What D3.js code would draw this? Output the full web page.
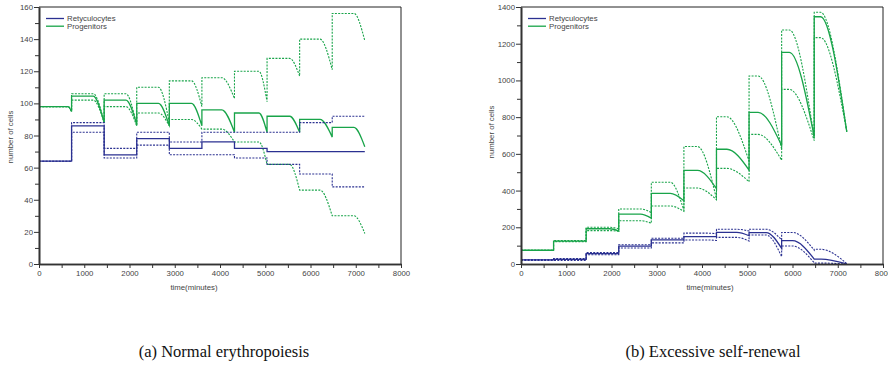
<!DOCTYPE html>
<html>
<head>
<meta charset="utf-8">
<script src="https://cdn.jsdelivr.net/npm/d3@7"></script>
<style>
  body { margin: 0; background: #fff; }
  svg { display: block; }
  .tick text { font-family: "Liberation Sans", Arial, sans-serif; font-size: 7.8px; fill: #444; }
</style>
</head>
<body>
<svg id="fig" width="888" height="374"></svg>
<script>
// Simulation output: cell counts over time, one dose pulse every 720 minutes.
const PERIOD = 720;
const periodStarts = [0, 720, 1440, 2160, 2880, 3600, 4320, 5040, 5760, 6480];
const xTickValues = [0, 1000, 2000, 3000, 4000, 5000, 6000, 7000, 8000];
const xMinorValues = [500, 1500, 2500, 3500, 4500, 5500, 6500, 7500];
const seriesNames = ["Retyculocytes", "Progenitors"];

// (a) Normal erythropoiesis — level at start of each period, minute the decline begins, level at its end
const normalKnee = [640, 480, 480, 480, 490, 440, 540, 500, 450, 480];
const normalProgMeanStart = [98, 104.5, 102, 100, 100, 96, 94, 92, 90, 85];
const normalProgMeanEnd   = [95, 88, 87, 86, 86, 82, 82, 82, 79, 73];
const normalProgHighStart = [98, 106, 106, 110, 114, 116, 120, 128, 140, 156];
const normalProgHighEnd   = [95, 88, 86, 88, 98, 103, 101, 117, 121, 139];
const normalProgLowStart  = [98, 102, 98, 94, 90, 84, 76, 62, 46, 30];
const normalProgLowEnd    = [95, 88, 86, 86, 84, 76, 62, 46, 30, 19];
const normalRetMean = [64, 86, 68, 78, 72, 76, 72, 70, 70, 70];
const normalRetHigh = [64, 88, 72, 82, 76, 82, 82, 82, 88, 92];
const normalRetLow  = [64, 82, 66, 74, 68, 68, 66, 62, 56, 48];
const normalYTicks = [0, 20, 40, 60, 80, 100, 120, 140, 160];
const normalYMinor = [10, 30, 50, 70, 90, 110, 130, 150];

// (b) Excessive self-renewal
const renewalGreenKnee = [600, 600, 520, 480, 420, 300, 230, 200, 170, 140];
const renewalProgMeanStart = [75, 125, 192, 272, 385, 510, 625, 826, 1153, 1347];
const renewalProgMeanEnd   = [75, 125, 180, 250, 345, 410, 512, 645, 693, 720];
const renewalProgHighStart = [75, 128, 200, 300, 445, 640, 802, 1024, 1275, 1371];
const renewalProgHighEnd   = [75, 128, 192, 280, 292, 355, 560, 625, 685, 720];
const renewalProgLowStart  = [75, 122, 182, 236, 316, 414, 521, 706, 951, 1233];
const renewalProgLowEnd    = [75, 122, 178, 222, 287, 350, 448, 566, 672, 720];
const renewalBlueKnee = [600, 600, 600, 600, 600, 500, 450, 380, 240, 150];
const renewalRetMeanStart = [22, 25, 56, 97, 131, 149, 172, 171, 127, 27];
const renewalRetMeanEnd   = [22, 25, 56, 97, 131, 149, 154, 85, 27, 1];
const renewalRetHighStart = [24, 30, 62, 105, 140, 168, 189, 189, 172, 80];
const renewalRetHighEnd   = [24, 30, 62, 105, 140, 165, 180, 131, 76, 2];
const renewalRetLowStart  = [20, 20, 50, 87, 115, 131, 145, 158, 98, 5];
const renewalRetLowEnd    = [20, 20, 50, 87, 115, 128, 125, 40, 7, 0];
const renewalYTicks = [0, 200, 400, 600, 800, 1000, 1200, 1400];
const renewalYMinor = [100, 300, 500, 700, 900, 1100, 1300];

const BLUE = "#2b3191";
const GREEN = "#18a449";
const AXIS = "#333";
const svg = d3.select("#fig");

function buildChart(opts) {
  const x = d3.scaleLinear().domain([0, 8000]).range([opts.left, opts.right]);
  const y = d3.scaleLinear().domain([0, opts.yMax]).range([264, 7]);
  const g = svg.append("g");

  // frame (top and right edges)
  g.append("line").attr("x1", x(0)).attr("x2", x(8000)).attr("y1", y(opts.yMax)).attr("y2", y(opts.yMax))
    .attr("stroke", "#222").attr("stroke-width", 1);
  g.append("line").attr("x1", x(8000)).attr("x2", x(8000)).attr("y1", y(opts.yMax)).attr("y2", y(0))
    .attr("stroke", "#222").attr("stroke-width", 1);

  const line = d3.line().x(d => x(d[0])).y(d => y(d[1])).curve(d3.curveMonotoneX);

  // one path per series: a smooth plateau-and-decline within each period, vertical jump at each pulse
  function seriesPath(start, end, knee) {
    let d = "";
    periodStarts.forEach((t0, k) => {
      const pts = [[t0, start[k]], [t0 + knee[k], start[k]], [t0 + PERIOD, end[k]]];
      let seg = line(pts);
      if (k > 0) seg = "L" + seg.slice(1);
      d += seg;
    });
    return d;
  }

  opts.series.forEach(s => {
    g.append("path")
      .attr("d", seriesPath(s.start, s.end, s.knee))
      .attr("fill", "none")
      .attr("stroke", s.color)
      .attr("stroke-width", s.dotted ? 1.1 : 1.3)
      .attr("stroke-dasharray", s.dotted ? "2,1.3" : null);
  });

  // axes
  const yAxis = g.append("g").attr("transform", `translate(${x(0)},0)`)
    .call(d3.axisLeft(y).tickValues(opts.yTicks).tickSize(5).tickPadding(1).tickSizeOuter(0).tickFormat(d3.format("d")));
  g.append("g").attr("transform", `translate(${x(0)},0)`)
    .call(d3.axisLeft(y).tickValues(opts.yMinor).tickSize(4).tickSizeOuter(0).tickFormat(""));
  const xAxis = g.append("g").attr("transform", `translate(0,${y(0)})`)
    .call(d3.axisBottom(x).tickValues(xTickValues).tickSize(4).tickPadding(2).tickSizeOuter(0).tickFormat(d3.format("d")));
  g.append("g").attr("transform", `translate(0,${y(0)})`)
    .call(d3.axisBottom(x).tickValues(xMinorValues).tickSize(4).tickSizeOuter(0).tickFormat(""));
  g.selectAll(".domain").attr("stroke", AXIS).attr("stroke-width", 1.6);
  g.selectAll(".tick line").attr("stroke", AXIS).attr("stroke-width", 1);

  // axis titles
  g.append("text").attr("x", opts.xTitleX).attr("y", 290)
    .attr("text-anchor", "middle")
    .style("font-family", "Liberation Sans, Arial, sans-serif").style("font-size", "7.8px").attr("fill", "#444")
    .text("time(minutes)");
  g.append("text")
    .attr("transform", `translate(${opts.yTitleX},${opts.yTitleY}) rotate(-90)`)
    .attr("text-anchor", "middle")
    .style("font-family", "Liberation Sans, Arial, sans-serif").style("font-size", "7.8px").attr("fill", "#444")
    .text("number of cells");

  // legend
  const lx = x(0) + 7;
  [BLUE, GREEN].forEach((c, i) => {
    const ly = 18.5 + i * 7.7;
    g.append("line").attr("x1", lx).attr("x2", lx + 18).attr("y1", ly).attr("y2", ly)
      .attr("stroke", c).attr("stroke-width", 1.3);
    g.append("text").attr("x", lx + 21).attr("y", ly + 2.6)
      .style("font-family", "Liberation Sans, Arial, sans-serif").style("font-size", "7.8px").attr("fill", "#444")
      .text(seriesNames[i]);
  });

  // caption
  svg.append("text").attr("x", opts.captionX).attr("y", 357)
    .attr("text-anchor", "middle")
    .style("font-family", "Liberation Serif, 'DejaVu Serif', serif").style("font-size", "16.5px").attr("fill", "#111")
    .text(opts.caption);
}

const flatKnee = periodStarts.map(() => 600);

buildChart({
  left: 39, right: 401, yMax: 160,
  yTicks: normalYTicks, yMinor: normalYMinor,
  xTitleX: 194, yTitleX: 13, yTitleY: 137,
  captionX: 224, caption: "(a) Normal erythropoiesis",
  series: [
    { start: normalProgHighStart, end: normalProgHighEnd, knee: normalKnee, color: GREEN, dotted: true },
    { start: normalProgLowStart, end: normalProgLowEnd, knee: normalKnee, color: GREEN, dotted: true },
    { start: normalProgMeanStart, end: normalProgMeanEnd, knee: normalKnee, color: GREEN, dotted: false },
    { start: normalRetHigh, end: normalRetHigh, knee: flatKnee, color: BLUE, dotted: true },
    { start: normalRetLow, end: normalRetLow, knee: flatKnee, color: BLUE, dotted: true },
    { start: normalRetMean, end: normalRetMean, knee: flatKnee, color: BLUE, dotted: false }
  ]
});

buildChart({
  left: 521, right: 883, yMax: 1400,
  yTicks: renewalYTicks, yMinor: renewalYMinor,
  xTitleX: 710, yTitleX: 494, yTitleY: 132,
  captionX: 713, caption: "(b) Excessive self-renewal",
  series: [
    { start: renewalProgHighStart, end: renewalProgHighEnd, knee: renewalGreenKnee, color: GREEN, dotted: true },
    { start: renewalProgLowStart, end: renewalProgLowEnd, knee: renewalGreenKnee, color: GREEN, dotted: true },
    { start: renewalProgMeanStart, end: renewalProgMeanEnd, knee: renewalGreenKnee, color: GREEN, dotted: false },
    { start: renewalRetHighStart, end: renewalRetHighEnd, knee: renewalBlueKnee, color: BLUE, dotted: true },
    { start: renewalRetLowStart, end: renewalRetLowEnd, knee: renewalBlueKnee, color: BLUE, dotted: true },
    { start: renewalRetMeanStart, end: renewalRetMeanEnd, knee: renewalBlueKnee, color: BLUE, dotted: false }
  ]
});
</script>
</body>
</html>
